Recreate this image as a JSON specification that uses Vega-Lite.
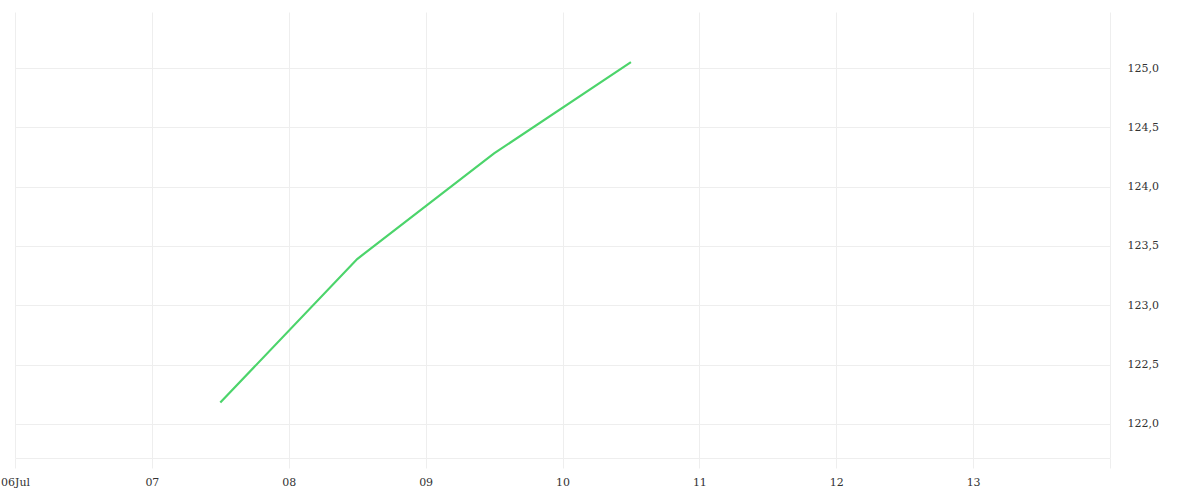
{
  "$schema": "https://vega.github.io/schema/vega-lite/v6.json",
  "width": 1095,
  "height": 446,
  "autosize": {"type": "none"},
  "padding": {"left": 15, "top": 12, "right": 90, "bottom": 42},
  "background": "white",
  "config": {
    "view": {"stroke": null},
    "axis": {"labelFont": "DejaVu Serif", "labelFontSize": 11, "labelColor": "#333333"}
  },
  "data": {
    "values": [
      {"date": "2023-07-07T12:00:00Z", "value": 122.18},
      {"date": "2023-07-08T12:00:00Z", "value": 123.39},
      {"date": "2023-07-09T12:00:00Z", "value": 124.28},
      {"date": "2023-07-10T12:00:00Z", "value": 125.05}
    ]
  },
  "mark": {"type": "line", "color": "#4cd46b", "strokeWidth": 2.2},
  "encoding": {
    "x": {
      "field": "date",
      "type": "temporal",
      "scale": {"type": "utc", "domain": ["2023-07-06T00:00:00Z", "2023-07-14T00:00:00Z"]},
      "axis": {
        "title": null,
        "values": ["2023-07-06T00:00:00Z", "2023-07-07T00:00:00Z", "2023-07-08T00:00:00Z", "2023-07-09T00:00:00Z", "2023-07-10T00:00:00Z", "2023-07-11T00:00:00Z", "2023-07-12T00:00:00Z", "2023-07-13T00:00:00Z", "2023-07-14T00:00:00Z"],
        "labelExpr": "utcFormat(datum.value,'%d') == '06' ? '06Jul' : (utcFormat(datum.value,'%d') == '14' ? '' : utcFormat(datum.value,'%d'))",
        "grid": true,
        "gridColor": "#eeeeee",
        "gridWidth": 1,
        "tickColor": "#eeeeee",
        "tickSize": 10,
        "domainColor": "#eeeeee",
        "labelPadding": 8,
        "labelAngle": 0,
        "labelAlign": "center",
        "labelFlush": false,
        "labelOverlap": false
      }
    },
    "y": {
      "field": "value",
      "type": "quantitative",
      "scale": {"domain": [121.713, 125.472], "nice": false, "zero": false},
      "axis": {
        "title": null,
        "orient": "right",
        "values": [122, 122.5, 123, 123.5, 124, 124.5, 125],
        "labelExpr": "replace(format(datum.value, '.1f'), '.', ',')",
        "grid": true,
        "gridColor": "#eeeeee",
        "domain": false,
        "ticks": false,
        "labelPadding": 17,
        "labelAlign": "left"
      }
    }
  }
}
